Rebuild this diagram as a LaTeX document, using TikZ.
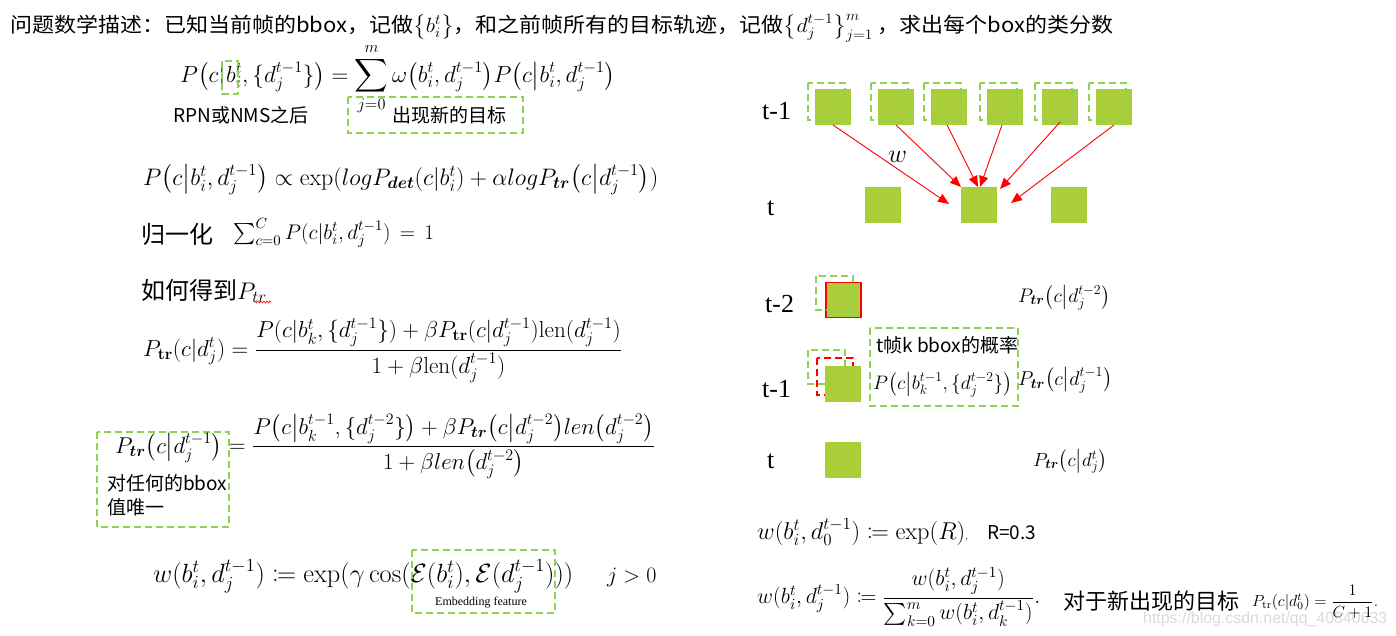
\RequirePackage{fix-cm}
\documentclass[tikz,border=0pt]{standalone}
\usepackage{amsmath,amssymb,mathtools,bm,graphicx}
\usepackage[no-math]{fontspec}
\newfontfamily\ya{Noto Sans CJK SC}
\newfontfamily\tnr{Liberation Serif}
\newfontfamily\wmfont{Liberation Sans}
\usetikzlibrary{arrows.meta,calc,decorations.pathmorphing}
\definecolor{sq}{RGB}{169,206,57}
\definecolor{dg}{RGB}{146,208,80}
\definecolor{wm}{RGB}{218,218,218}
\newcommand{\fs}[1]{\fontsize{#1}{#1}\selectfont}
\newcommand{\fitw}[2]{\resizebox{#1}{!}{#2}}
\newcommand{\lr}[1]{{\left(#1\right)}}
\newcommand{\mi}{\middle|}
\tikzset{
  sqbox/.style={fill=sq, minimum size=36pt, inner sep=0pt, outer sep=0pt},
  dbox/.style={draw=dg, line width=2pt, dash pattern=on 7pt off 4pt},
  rdbox/.style={draw=red, line width=2pt, dash pattern=on 7pt off 4pt},
  redarr/.style={draw=red, line width=0.9pt, -{Triangle[length=11pt,width=9pt]}},
  txt/.style={inner sep=0pt, anchor=base west},
}
\begin{document}
\begin{tikzpicture}[x=1pt,y=-1pt]
\useasboundingbox[fill=white] (0,0) rectangle (1396,635);

% title
\node[txt, font=\ya\fs{20.5}] (title) at (10,32) {\resizebox{1103pt}{\height}{问题数学描述：已知当前帧的bbox，记做$\bigl\{b_i^t\bigr\}$，和之前帧所有的目标轨迹，记做$\bigl\{d_j^{t-1}\bigr\}_{j=1}^{m}$ ，求出每个box的类分数}};

% formula 1
\node[txt, font=\fs{20}] (f1) at (180,82) {\fitw{435pt}{$P\lr{c\mi b_i^t,\{d_j^{t-1}\}}=\displaystyle\sum_{j=0}^{m}\omega\lr{b_i^t,d_j^{t-1}}P\lr{c\mi b_i^t,d_j^{t-1}}$}};
\draw[dbox] (222,61) rectangle (238,94);
\node[txt, font=\ya\fs{19}] (rpn) at (173,122) {RPN或NMS之后};
\node[txt, font=\ya\fs{19}] (newt) at (392,122) {出现新的目标};
\draw[dbox] (348,97) rectangle (523,133);

% formula 2
\node[txt, font=\fs{20}] (f2) at (143,185) {\fitw{515pt}{$P\lr{c\mi b_i^t,d_j^{t-1}}\propto\exp(logP_{\bm{det}}\lr{c\mi b_i^t}+\alpha logP_{\bm{tr}}\lr{c\mi d_j^{t-1}})$}};

% normalization
\node[txt, font=\ya\fs{24}] (norm) at (141,243) {归一化};
\node[txt, font=\fs{17}] (normf) at (233,239) {\fitw{201pt}{$\sum_{c=0}^{C}P(c|b_i^t,d_j^{t-1})\,=\,1$}};

% how to get Ptr
\node[txt, font=\ya\fs{24}] (how) at (141,299) {如何得到$P_{tr}$};
\draw[red, line width=0.6pt, decorate, decoration={snake, amplitude=1pt, segment length=3pt}] (254,302) -- (271,302);

% formula 4
\node[txt, font=\fs{20}] (f4) at (143,356) {\fitw{479pt}{$P_{\mathbf{tr}}(c|d_j^t)=\dfrac{P(c|b_k^t,\{d_j^{t-1}\})+\beta P_{\mathbf{tr}}(c|d_j^{t-1})\mathrm{len}(d_j^{t-1})}{1+\beta\mathrm{len}(d_j^{t-1})}$}};

% formula 5
\draw[dbox] (97,432) rectangle (229,527);
\node[txt, font=\fs{20}] (f5l) at (115,453) {\fitw{107pt}{$P_{\bm{tr}}\lr{c\mi d_j^{t-1}}$}};
\node[txt, font=\ya\fs{19}] (any1) at (107,490) {对任何的bbox};
\node[txt, font=\ya\fs{19}] (any2) at (107,514) {值唯一};
\node[txt, font=\fs{20}] (f5r) at (229,452.5) {\fitw{426pt}{$=\dfrac{P\lr{c\mi b_k^{t-1},\{d_j^{t-2}\}}+\beta P_{\bm{tr}}\lr{c\mi d_j^{t-2}}len\lr{d_j^{t-2}}}{1+\beta len\lr{d_j^{t-2}}}$}};

% formula 6
\node[txt, font=\fs{20}] (f6) at (153,582) {\fitw{420pt}{$w(b_i^t,d_j^{t-1})\coloneqq\exp(\gamma\cos(\mathcal{E}(b_i^t),\mathcal{E}(d_j^{t-1})))$}};
\node[txt, font=\fs{22}] (f6j) at (607,582) {$j>0$};
\draw[dbox] (412,550) rectangle (555,613);
\node[txt, font=\tnr\fs{12}] (emb) at (435,605) {Embedding feature};

% ---------- right: top diagram ----------
\node[txt, font=\tnr\fs{26}] (lt1) at (762,119) {t-1};
\node[txt, font=\tnr\fs{26}] (lt0) at (767,215) {t};
\foreach \i/\x in {1/833,2/896,3/949,4/1005,5/1060,6/1114}{
  \node[sqbox] (a\i) at (\x,107) {};
  \draw[dbox] ($(a\i.center)+(-25,-24)$) rectangle ($(a\i.center)+(12,13)$);
}
\node[sqbox] (c1) at (883,205) {};
\node[sqbox] (c2) at (979,205) {};
\node[sqbox] (c3) at (1069,205) {};
\draw[redarr] (a1.south) -- ($(c2.west)+(-12,-1)$);
\draw[redarr] (a2.south) -- (c2.north west);
\draw[redarr] ($(a3.south)+(-2,0)$) -- ($(c2.north)+(-1,0)$);
\draw[redarr] ($(a4.south)+(-3,0)$) -- ($(c2.north)+(1,0)$);
\draw[redarr] ($(a5.south)+(0,-3)$) -- ($(c2.north east)+(3,2)$);
\draw[redarr] (a6.south) -- ($(c2.east)+(14,-2)$);
\node[txt, font=\fs{26}] (wl) at (888,162) {$w$};

% ---------- right: middle diagram ----------
\node[txt, font=\tnr\fs{26}] (lt2b) at (765,312) {t-2};
\node[txt, font=\tnr\fs{26}] (lt1b) at (762,397) {t-1};
\node[txt, font=\tnr\fs{26}] (lt0b) at (767,468) {t};
\node[sqbox, draw=red, line width=1.5pt, minimum size=35pt] (b2) at (843.5,300) {};
\draw[dbox] ($(b2.center)+(-27.5,-24)$) rectangle ($(b2.center)+(9.5,10)$);
\draw[dbox] (808,350) rectangle (845,384);
\draw[rdbox] (817,358) rectangle (853,395);
\node[sqbox] (b1) at (843,384) {};
\node[sqbox] (b0) at (843,459.5) {};
\draw[dbox] (870,328) rectangle (1018,406);
\node[txt, font=\ya\fs{19}] (tk) at (876,352) {t帧k bbox的概率};
\node[txt, font=\fs{18}] (tkf) at (873,389) {\fitw{139pt}{$P\lr{c\mi b_k^{t-1},\{d_j^{t-2}\}}$}};
\node[txt, font=\fs{18}] (p2) at (1018,302) {\fitw{92pt}{$P_{\bm{tr}}\lr{c\mi d_j^{t-2}}$}};
\node[txt, font=\fs{18}] (p1) at (1018,385) {\fitw{94pt}{$P_{\bm{tr}}\lr{c\mi d_j^{t-1}}$}};
\node[txt, font=\fs{18}] (p0) at (1033,466) {\fitw{74pt}{$P_{\bm{tr}}\lr{c\mi d_j^{t}}$}};

% ---------- right: bottom formulas ----------
\node[txt, font=\fs{19}] (r1) at (757,539) {\fitw{211pt}{$w(b_i^t,d_0^{t-1})\coloneqq\exp(R)$\fs{8}$,$}};
\node[txt, font=\ya\fs{19}] (r03) at (987,539) {R=0.3};
\node[txt, font=\fs{17}] (r2) at (757,603.5) {\fitw{283pt}{$w(b_i^t,d_j^{t-1})\coloneqq\dfrac{w(b_i^t,d_j^{t-1})}{\sum_{k=0}^{m}w(b_i^t,d_k^{t-1})}.$}};
\node[txt, font=\ya\fs{22}] (newo) at (1063,609) {对于新出现的目标};
\node[txt, font=\wmfont\fs{16}, text=wm] (wmk) at (1143,623) {\fitw{244pt}{https://blog.csdn.net/qq\_40840633}};
\node[txt, font=\fs{12}] (r3) at (1252,606) {\fitw{126pt}{$P_{\mathrm{tr}}(c|d_0^t)=\dfrac{1}{C+1}.$}};
\end{tikzpicture}
\end{document}
